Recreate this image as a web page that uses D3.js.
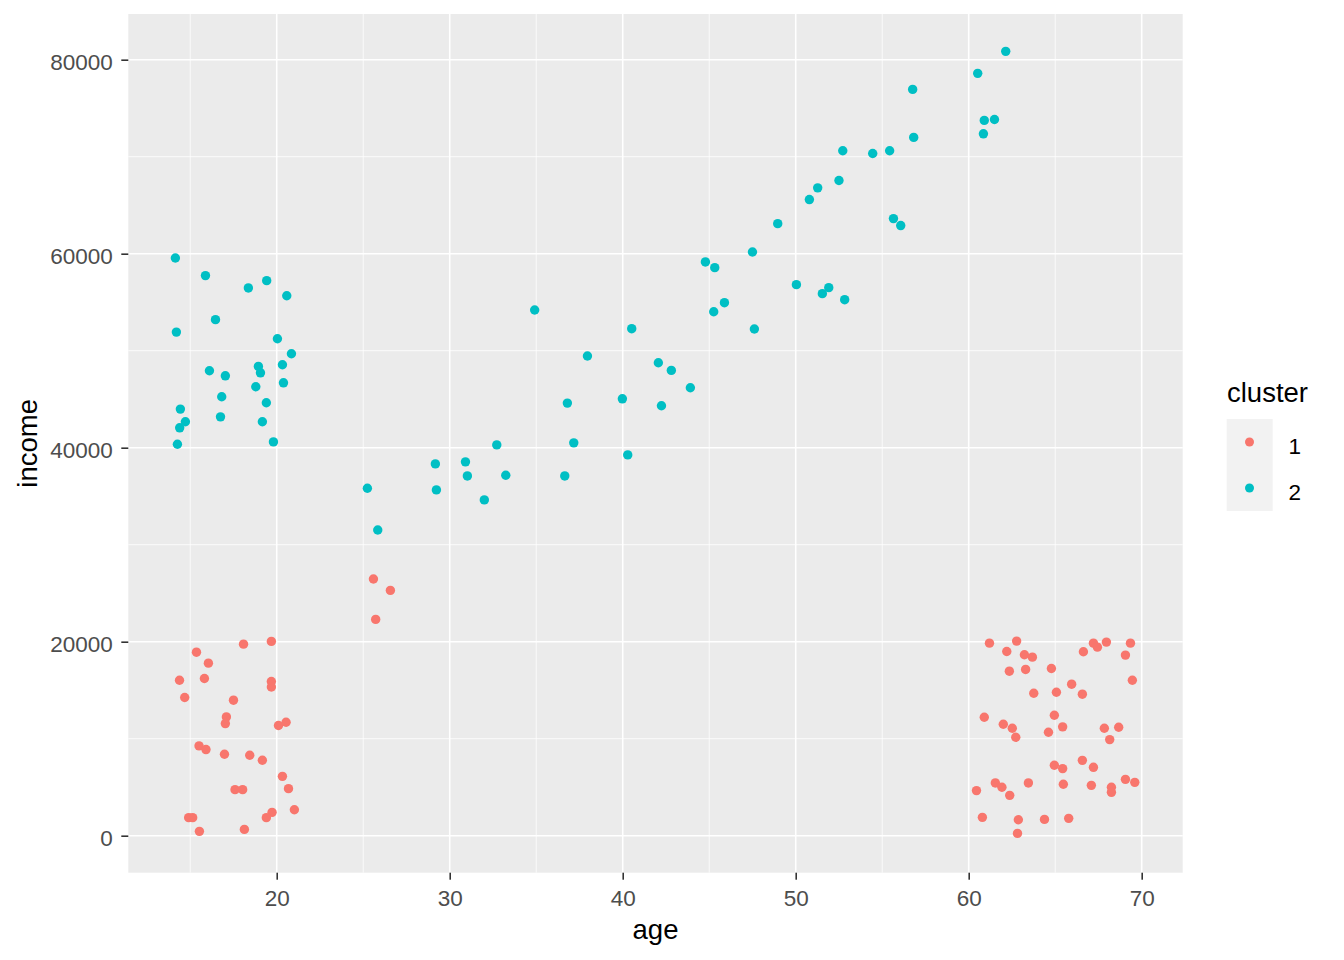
<!DOCTYPE html>
<html>
<head>
<meta charset="utf-8">
<script src="https://cdn.jsdelivr.net/npm/d3@7"></script>
<style>
  html, body { margin: 0; padding: 0; background: #ffffff; }
  svg { display: block; font-family: "Liberation Sans", Arial, sans-serif; }
</style>
</head>
<body>
<svg id="chart" width="1344" height="960"></svg>
<script>
// ---- data ----
const clusterLabels = ["1", "2"];
const clusterColors = ["#F8766D", "#00BFC4"];
const xTicks = [20, 30, 40, 50, 60, 70];
const yTicks = [0, 20000, 40000, 60000, 80000];

// cluster 1 : [age, income]
const cluster1 = [
  [18.08,19750],[19.69,20030],[15.36,18920],[16.05,17790],[14.38,16030],[15.82,16210],
  [19.69,15890],[19.69,15330],[14.68,14250],[17.50,13970],[17.09,12250],[17.03,11560],
  [20.10,11360],[20.54,11700],[15.51,9260],[15.91,8880],[16.98,8400],[18.44,8290],
  [19.17,7780],[20.33,6120],[20.68,4850],[17.59,4750],[18.03,4750],[21.02,2680],
  [19.73,2410],[19.40,1860],[14.91,1860],[15.14,1860],[15.53,450],[18.13,650],
  [25.59,26460],[26.57,25290],[25.72,22300],
  [61.20,19850],[62.77,20060],[62.20,18990],[63.22,18650],[63.68,18410],[67.21,19850],
  [67.44,19440],[67.96,19960],[66.63,18960],[69.35,19850],[69.06,18620],[62.35,16960],
  [63.29,17140],[64.78,17240],[69.46,16030],[65.95,15620],[63.76,14690],[65.07,14790],
  [66.57,14590],[60.90,12210],[64.95,12420],[62.00,11490],[62.52,11080],[65.43,11220],
  [67.84,11080],[68.67,11180],[62.72,10150],[64.61,10660],[68.15,9910],[64.95,7260],
  [65.43,6920],[66.57,7770],[67.21,7050],[61.54,5440],[61.92,4990],[63.45,5440],
  [65.47,5300],[67.09,5190],[69.06,5810],[69.60,5500],[60.45,4650],[62.37,4160],
  [68.25,4990],[68.25,4470],[60.79,1890],[62.87,1650],[64.38,1680],[65.78,1790],
  [62.82,240]
];

// cluster 2 : [age, income]
const cluster2 = [
  [14.14,59560],[15.88,57740],[19.42,57220],[18.36,56470],[20.58,55670],[16.46,53200],
  [14.20,51920],[20.04,51230],[20.85,49690],[18.94,48380],[20.33,48550],[16.11,47930],
  [19.06,47720],[17.03,47410],[18.79,46280],[20.39,46690],[16.82,45250],[19.40,44630],
  [14.43,43980],[16.75,43180],[14.72,42670],[14.39,42050],[19.17,42670],[14.26,40360],
  [19.81,40600],
  [34.91,54200],[40.52,52270],[37.96,49450],[36.80,44600],[39.98,45040],[32.72,40290],
  [37.17,40500],[40.29,39260],[29.17,38330],[30.91,38540],[31.02,37090],[33.24,37160],
  [36.65,37090],[25.24,35820],[29.23,35650],[32.00,34620],[25.84,31520],
  [52.72,70610],[54.45,70330],[55.43,70610],[56.82,71990],[52.50,67550],[51.27,66790],
  [50.79,65580],[48.96,63100],[55.65,63620],[56.07,62900],[47.50,60180],[44.78,59150],
  [45.32,58560],[50.04,56810],[51.91,56500],[51.54,55880],[52.83,55260],[45.88,54950],
  [45.26,54020],[47.61,52240],[42.06,48760],[42.81,47970],[43.91,46180],[42.24,44320],
  [62.14,80860],[60.52,78590],[56.76,76940],[60.90,73740],[61.49,73840],[60.85,72360]
];

const seriesData = [cluster1, cluster2];

// ---- layout ----
const panel = { left: 128.3, right: 1182.7, top: 14, bottom: 872.7 };
const x = d3.scaleLinear().domain([11.42, 72.37]).range([panel.left, panel.right]);
const y = d3.scaleLinear().domain([-3814, 84711]).range([panel.bottom, panel.top]);

const svg = d3.select("#chart");

// panel background
svg.append("rect")
  .attr("x", panel.left).attr("y", panel.top)
  .attr("width", panel.right - panel.left).attr("height", panel.bottom - panel.top)
  .attr("fill", "#EBEBEB");

// minor grid
const xMinor = d3.range(15, 72, 10);
const yMinor = d3.range(10000, 84000, 20000);
const grid = svg.append("g");
grid.selectAll(".xminor").data(xMinor).enter().append("line")
  .attr("x1", d => x(d)).attr("x2", d => x(d))
  .attr("y1", panel.top).attr("y2", panel.bottom)
  .attr("stroke", "#ffffff").attr("stroke-width", 0.8);
grid.selectAll(".yminor").data(yMinor).enter().append("line")
  .attr("y1", d => y(d)).attr("y2", d => y(d))
  .attr("x1", panel.left).attr("x2", panel.right)
  .attr("stroke", "#ffffff").attr("stroke-width", 0.8);
// major grid
grid.selectAll(".xmajor").data(xTicks).enter().append("line")
  .attr("x1", d => x(d)).attr("x2", d => x(d))
  .attr("y1", panel.top).attr("y2", panel.bottom)
  .attr("stroke", "#ffffff").attr("stroke-width", 1.6);
grid.selectAll(".ymajor").data(yTicks).enter().append("line")
  .attr("y1", d => y(d)).attr("y2", d => y(d))
  .attr("x1", panel.left).attr("x2", panel.right)
  .attr("stroke", "#ffffff").attr("stroke-width", 1.6);

// axes
const xAxis = d3.axisBottom(x).tickValues(xTicks).tickSize(7).tickPadding(9).tickFormat(d3.format("d"));
const gx = svg.append("g").attr("transform", `translate(0,${panel.bottom})`).call(xAxis);
gx.select(".domain").remove();
gx.selectAll(".tick line").attr("stroke", "#333333").attr("stroke-width", 1.6);
gx.selectAll(".tick text").attr("fill", "#4D4D4D").attr("font-size", 22.5)
  .attr("font-family", "Liberation Sans, Arial, sans-serif")
  .attr("dy", null).attr("y", 33.3);

const yAxis = d3.axisLeft(y).tickValues(yTicks).tickSize(7).tickPadding(8).tickFormat(d3.format("d"));
const gy = svg.append("g").attr("transform", `translate(${panel.left},0)`).call(yAxis);
gy.select(".domain").remove();
gy.selectAll(".tick line").attr("stroke", "#333333").attr("stroke-width", 1.6);
gy.selectAll(".tick text").attr("fill", "#4D4D4D").attr("font-size", 22.5)
  .attr("font-family", "Liberation Sans, Arial, sans-serif")
  .attr("x", -15.5).attr("dy", null).attr("y", 10);

// axis titles
svg.append("text")
  .attr("x", (panel.left + panel.right) / 2).attr("y", 939)
  .attr("text-anchor", "middle").attr("font-size", 27.5).attr("fill", "#000000")
  .text("age");
svg.append("text")
  .attr("transform", `translate(36.5,${(panel.top + panel.bottom) / 2}) rotate(-90)`)
  .attr("text-anchor", "middle").attr("font-size", 27.5).attr("fill", "#000000")
  .text("income");

// points
const pts = svg.append("g");
seriesData.forEach((data, i) => {
  pts.selectAll(null).data(data).enter().append("circle")
    .attr("cx", d => x(d[0])).attr("cy", d => y(d[1]))
    .attr("r", 4.7).attr("fill", clusterColors[i]);
});

// legend
const legend = svg.append("g");
legend.append("text")
  .attr("x", 1227).attr("y", 402)
  .attr("font-size", 27.5).attr("fill", "#000000")
  .text("cluster");
clusterLabels.forEach((lab, i) => {
  const top = 419 + i * 46;
  legend.append("rect")
    .attr("x", 1226.7).attr("y", top).attr("width", 46).attr("height", 46)
    .attr("fill", "#F2F2F2");
  legend.append("circle")
    .attr("cx", 1249.5).attr("cy", top + 23).attr("r", 4.5)
    .attr("fill", clusterColors[i]);
  legend.append("text")
    .attr("x", 1288.5).attr("y", top + 34.5)
    .attr("font-size", 22.5).attr("fill", "#000000")
    .text(lab);
});
</script>
</body>
</html>
